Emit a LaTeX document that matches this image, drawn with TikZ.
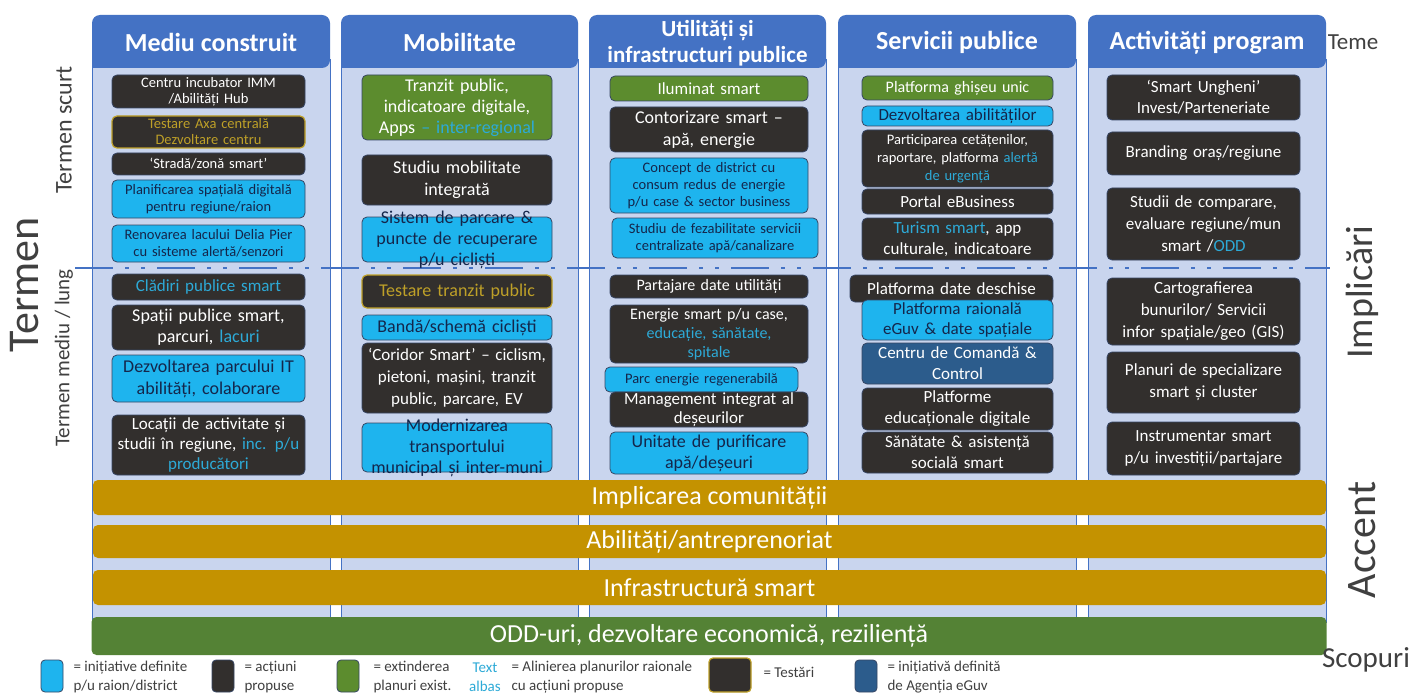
\documentclass[tikz,border=0pt]{standalone}
\usepackage{fontspec}
\setmainfont{Carlito}
\usetikzlibrary{positioning}
\definecolor{hdr}{RGB}{68,114,196}
\definecolor{colbg}{RGB}{201,213,238}
\definecolor{dk}{RGB}{50,47,45}
\definecolor{cy}{RGB}{30,180,238}
\definecolor{cyt}{RGB}{45,170,215}
\definecolor{navy}{RGB}{20,38,75}
\definecolor{gr}{RGB}{92,140,46}
\definecolor{grb}{RGB}{84,130,53}
\definecolor{gold}{RGB}{196,146,0}
\definecolor{yel}{RGB}{190,160,40}
\definecolor{egv}{RGB}{44,92,140}
\definecolor{edge}{RGB}{55,70,100}
\definecolor{lbl}{RGB}{64,64,64}
\newcommand\fsz[2]{\fontsize{#1}{#2}\selectfont}

\begin{document}
\begin{tikzpicture}[x=1pt,y=-1pt,
  box/.style={rounded corners=5pt,draw=edge,line width=0.8pt,align=center,inner xsep=2pt,inner ysep=1pt},
  dbox/.style={box,fill=dk,text=white},
  cbox/.style={box,fill=cy,text=navy},
  gbox/.style={box,fill=gr,text=white},
  tbox/.style={box,fill=dk,draw=yel,line width=1.2pt,text=yel},
  ebox/.style={box,fill=egv,text=white},
  c1/.style={text width=189pt},
  c2/.style={text width=186pt},
  c3/.style={text width=194pt},
  c4/.style={text width=187pt},
  c5/.style={text width=189pt},
  bar/.style={rounded corners=5pt,fill=gold,text=white,minimum width=1233pt,font=\fsz{26}{28}},
  swatch/.style={rounded corners=4pt,draw=edge,line width=0.8pt,minimum width=22pt,minimum height=32pt},
  leg/.style={anchor=west,align=left,text=lbl,font=\fsz{15}{19}}]
\useasboundingbox (0,0) rectangle (1425,698);
\fill[white] (0,0) rectangle (1425,698);

% column bodies
\filldraw[fill=colbg,draw=hdr,line width=1pt] (92,60) rectangle (330,622);
\filldraw[fill=colbg,draw=hdr,line width=1pt] (341,60) rectangle (578,622);
\filldraw[fill=colbg,draw=hdr,line width=1pt] (589,60) rectangle (826,622);
\filldraw[fill=colbg,draw=hdr,line width=1pt] (838,60) rectangle (1076,622);
\filldraw[fill=colbg,draw=hdr,line width=1pt] (1088,60) rectangle (1326,622);

% header tabs
\fill[hdr,rounded corners=8pt] (92,68) -- (92,15) -- (330,15) -- (330,68) [sharp corners] -- cycle;
\fill[hdr,rounded corners=8pt] (341,68) -- (341,15) -- (578,15) -- (578,68) [sharp corners] -- cycle;
\fill[hdr,rounded corners=8pt] (589,68) -- (589,15) -- (826,15) -- (826,68) [sharp corners] -- cycle;
\fill[hdr,rounded corners=8pt] (838,68) -- (838,15) -- (1076,15) -- (1076,68) [sharp corners] -- cycle;
\fill[hdr,rounded corners=8pt] (1088,68) -- (1088,15) -- (1326,15) -- (1326,68) [sharp corners] -- cycle;
\node[text=white,font=\bfseries\fsz{26}{28}] (mediu) at (211,42) {Mediu construit};
\node[text=white,font=\bfseries\fsz{26}{28}] (mobil) at (459.5,42) {Mobilitate};
\node[text=white,font=\bfseries\fsz{23}{26},align=center] (util) at (707.5,43) {Utilități și\\infrastructuri publice};
\node[text=white,font=\bfseries\fsz{26}{28}] (serv) at (957,42) {Servicii publice};
\node[text=white,font=\bfseries\fsz{26}{28}] (activ) at (1207,43) {Activități program};

% limita termen scurt / mediu
\draw[hdr,line width=2.5pt,dash pattern=on 38pt off 12pt on 4pt off 12pt on 4pt off 12pt] (75,268) -- (1330,268);

% Mediu construit
\node[dbox,c1,minimum height=33,font=\fsz{14.5}{16}] (cent) at (208.5,91.5) {Centru incubator IMM\\/Abilități Hub};
\node[tbox,c1,minimum height=32,font=\fsz{14.5}{16}] (axa) at (208.5,132) {Testare Axa centrală\\Dezvoltare centru};
\node[dbox,c1,minimum height=22,font=\fsz{14.5}{16}] (strada) at (208.5,164) {‘Stradă/zonă smart’};
\node[cbox,c1,minimum height=38,font=\fsz{14.5}{17}] (plan) at (208.5,199) {Planificarea spațială digitală\\pentru regiune/raion};
\node[cbox,c1,minimum height=37,font=\fsz{14.5}{17}] (renov) at (208.5,243.5) {Renovarea lacului Delia Pier\\cu sisteme alertă/senzori};
\node[dbox,c1,minimum height=26,font=\fsz{17}{19},text=cyt] (cladiri) at (208.5,287) {Clădiri publice smart};
\node[dbox,c1,minimum height=45,font=\fsz{18}{21}] (spatii) at (208.5,327.5) {Spații publice smart,\\parcuri, {\color{cyt}lacuri}};
\node[cbox,c1,minimum height=47,font=\fsz{18}{22}] (parcIT) at (208.5,378.5) {Dezvoltarea parcului IT\\abilități, colaborare};
\node[dbox,c1,minimum height=60,font=\fsz{17}{20}] (locatii) at (208.5,445) {Locații de activitate și\\studii în regiune, {\color{cyt}inc. p/u}\\{\color{cyt}producători}};

% Mobilitate
\node[gbox,c2,minimum height=65,font=\fsz{18}{21}] (tranzit) at (457,107.5) {Tranzit public,\\indicatoare digitale,\\Apps {\color{cyt}– inter-regional}};
\node[dbox,c2,minimum height=50,font=\fsz{18}{22}] (studiu) at (457,180) {Studiu mobilitate\\integrată};
\node[cbox,c2,minimum height=45,inner ysep=-9pt,font=\fsz{18}{21}] (sistem) at (457,239.5) {Sistem de parcare \&\\puncte de recuperare\\p/u cicliști};
\node[tbox,c2,minimum height=33,font=\fsz{18}{20}] (testtr) at (457,291.5) {Testare tranzit public};
\node[cbox,c2,minimum height=25,font=\fsz{18}{20}] (banda) at (457,327.5) {Bandă/schemă cicliști};
\node[dbox,c2,minimum height=70,font=\fsz{17}{22}] (coridor) at (457,378) {‘Coridor Smart’ – ciclism,\\pietoni, mașini, tranzit\\public, parcare, EV};
\node[cbox,c2,minimum height=49,inner ysep=-7pt,font=\fsz{18}{21}] (modern) at (457,447.5) {Modernizarea\\transportului\\municipal și inter-muni};

% Utilitati si infrastructuri publice
\node[gbox,c3,minimum height=25,font=\fsz{17}{19}] (ilum) at (709,88.5) {Iluminat smart};
\node[dbox,c3,minimum height=45,font=\fsz{18}{22}] (contor) at (709,129.5) {Contorizare smart –\\apă, energie};
\node[cbox,c3,minimum height=55,font=\fsz{14.5}{17}] (concept) at (709,185.5) {Concept de district cu\\consum redus de energie\\p/u case \& sector business};
\node[cbox,text width=202pt,minimum height=40,font=\fsz{14.5}{17}] (fezab) at (715,238) {Studiu de fezabilitate servicii\\centralizate apă/canalizare};
\node[dbox,c3,minimum height=23,font=\fsz{16}{18}] (partaj) at (709,286.5) {Partajare date utilități};
\node[dbox,c3,minimum height=58,font=\fsz{16}{19}] (energie) at (709,334) {Energie smart p/u case,\\{\color{cyt}educație, sănătate,}\\{\color{cyt}spitale}};
\node[cbox,text width=189pt,minimum height=25,font=\fsz{14.5}{16}] (parcEn) at (701.5,379.5) {Parc energie regenerabilă};
\node[dbox,c3,minimum height=35,inner ysep=-2pt,font=\fsz{17}{19}] (deseuri) at (709,409.5) {Management integrat al\\deșeurilor};
\node[cbox,c3,minimum height=42,font=\fsz{18}{21}] (unitate) at (709,453) {Unitate de purificare\\apă/deșeuri};

% Servicii publice
\node[gbox,c4,minimum height=24,font=\fsz{16}{18}] (ghiseu) at (957.5,88) {Platforma ghișeu unic};
\node[cbox,c4,minimum height=20,font=\fsz{17}{18}] (abil) at (957.5,116) {Dezvoltarea abilităților};
\node[dbox,c4,minimum height=57,font=\fsz{14.5}{18}] (partic) at (957.5,158.5) {Participarea cetățenilor,\\raportare, platforma {\color{cyt}alertă}\\{\color{cyt}de urgență}};
\node[dbox,c4,minimum height=25,font=\fsz{17}{19}] (portal) at (957.5,201.5) {Portal eBusiness};
\node[dbox,c4,minimum height=42,font=\fsz{17}{21}] (turism) at (957.5,239) {{\color{cyt}Turism smart}, app\\culturale, indicatoare};
\node[dbox,text width=199pt,minimum height=27,font=\fsz{17}{19}] (deschise) at (951.5,288.5) {Platforma date deschise};
\node[cbox,c4,minimum height=40,font=\fsz{17}{20}] (eguv) at (957.5,320) {Platforma raională\\eGuv \& date spațiale};
\node[ebox,c4,minimum height=41,font=\fsz{17}{21}] (comanda) at (957.5,363.5) {Centru de Comandă \&\\Control};
\node[dbox,c4,minimum height=42,font=\fsz{17}{21}] (educ) at (957.5,409) {Platforme\\educaționale digitale};
\node[dbox,c4,minimum height=41,font=\fsz{17}{21}] (sanatate) at (957.5,452.5) {Sănătate \& asistență\\socială smart};

% Activitati program
\node[dbox,c5,minimum height=45,font=\fsz{17}{21}] (ungheni) at (1203.5,97.5) {‘Smart Ungheni’\\Invest/Parteneriate};
\node[dbox,c5,minimum height=43,font=\fsz{17}{20}] (brand) at (1203.5,153.5) {Branding oraș/regiune};
\node[dbox,c5,minimum height=72,font=\fsz{17}{22}] (compar) at (1203.5,224) {Studii de comparare,\\evaluare regiune/mun\\smart /{\color{cyt}ODD}};
\node[dbox,c5,minimum height=67,font=\fsz{17}{22}] (carto) at (1203.5,311.5) {Cartografierea\\bunurilor/ Servicii\\infor spațiale/geo (GIS)};
\node[dbox,c5,minimum height=61,font=\fsz{17}{22}] (planuri) at (1203.5,382.5) {Planuri de specializare\\smart și cluster};
\node[dbox,c5,minimum height=53,font=\fsz{17}{22}] (instr) at (1203.5,448.5) {Instrumentar smart\\p/u investiții/partajare};

% benzi orizontale
\node[bar,minimum height=35] (implic) at (709.5,497.5) {Implicarea comunității};
\node[bar,minimum height=33] (antrep) at (709.5,541.5) {Abilități/antreprenoriat};
\node[bar,minimum height=35] (infra) at (709.5,587.5) {Infrastructură smart};
\node[bar,fill=grb,minimum width=1235pt,minimum height=38] (odd) at (709,636) {ODD-uri, dezvoltare economică, reziliență};

% etichete laterale
\node[rotate=90,text=lbl,font=\fsz{44}{48}] (termen) at (25,285) {Termen};
\node[rotate=90,text=lbl,font=\fsz{24}{26}] (scurt) at (64,130) {Termen scurt};
\node[rotate=90,text=lbl,font=\fsz{21}{23}] (lung) at (64,358) {Termen mediu / lung};
\node[text=lbl,font=\fsz{23}{25}] (teme) at (1353,42) {Teme};
\node[rotate=90,text=lbl,font=\fsz{38}{40}] (implicari) at (1362,292) {Implicări};
\node[rotate=90,text=lbl,font=\fsz{42}{44}] (accent) at (1362,540) {Accent};
\node[text=lbl,font=\fsz{29}{31}] (scopuri) at (1366,660) {Scopuri};

% legenda
\node[swatch,fill=cy] (lcy) at (52,676) {};
\node[leg] (tcy) at (70,677) {= inițiative definite\\p/u raion/district};
\node[swatch,fill=dk] (ldk) at (223,676) {};
\node[leg] (tdk) at (241,677) {= acțiuni\\propuse};
\node[swatch,fill=gr] (lgr) at (348,676) {};
\node[leg] (tgr) at (370,677) {= extinderea\\planuri exist.};
\node[leg,anchor=center,align=center,text=cyt] (albas) at (485,677) {Text\\albas};
\node[leg] (talbas) at (508,677) {= Alinierea planurilor raionale\\cu acțiuni propuse};
\node[swatch,fill=dk,draw=yel,line width=1.2pt,minimum width=42pt,minimum height=34pt] (lts) at (730,675) {};
\node[leg] (tts) at (760,672) {= Testări};
\node[swatch,fill=egv] (leg) at (866,676) {};
\node[leg] (teg) at (884,677) {= inițiativă definită\\de Agenția eGuv};
\end{tikzpicture}
\end{document}
